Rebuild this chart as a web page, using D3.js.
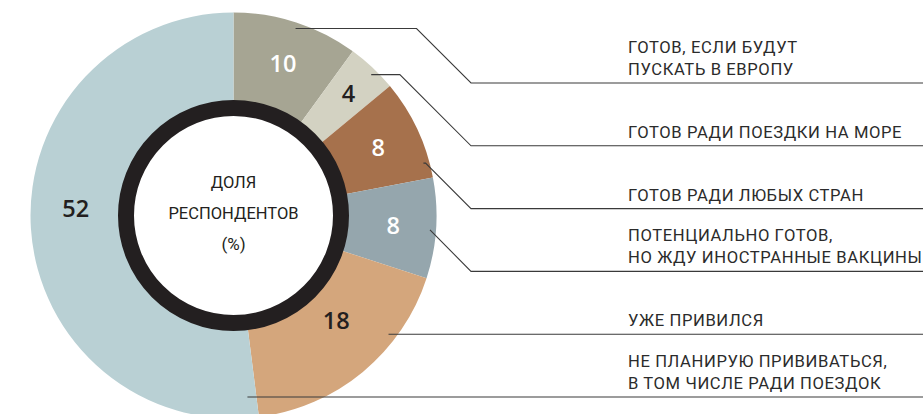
<!DOCTYPE html>
<html>
<head>
<meta charset="utf-8">
<script src="https://cdn.jsdelivr.net/npm/d3@7"></script>
<style>
  html, body { margin: 0; padding: 0; background: #fff; }
  svg { display: block; }
</style>
</head>
<body>
<div id="chart"></div>
<script>
// data
var categories = [
  ['ГОТОВ, ЕСЛИ БУДУТ', 'ПУСКАТЬ В ЕВРОПУ'],
  ['ГОТОВ РАДИ ПОЕЗДКИ НА МОРЕ'],
  ['ГОТОВ РАДИ ЛЮБЫХ СТРАН'],
  ['ПОТЕНЦИАЛЬНО ГОТОВ,', 'НО ЖДУ ИНОСТРАННЫЕ ВАКЦИНЫ'],
  ['УЖЕ ПРИВИЛСЯ'],
  ['НЕ ПЛАНИРУЮ ПРИВИВАТЬСЯ,', 'В ТОМ ЧИСЛЕ РАДИ ПОЕЗДОК']
];
var values = [10, 4, 8, 8, 18, 52];
var centerTitle = ['ДОЛЯ', 'РЕСПОНДЕНТОВ', '(%)'];

// styles
var colors = ['#a6a593', '#d3d2c2', '#a6714c', '#95a6ad', '#d4a67c', '#b9d0d4'];
var valueColors = ['#fff', '#231f20', '#fff', '#fff', '#231f20', '#231f20'];
var ink = '#231f20';

// layout tweaks for the value labels (radius, angle shift in degrees)
var labelRadius = [160, 168, 160, 160, 147, 158];
var labelShift = [0, 0, 0, 0, -4.7, 6];
// where inside each slice the leader line starts (fraction of the slice angle)
var leaderAt = [0.51, 0.58, 0.84, 0.52, 0.30, 0.015];

var width = 923, height = 414;
var cx = 233.5, cy = 215.5, R = 203;
var elbowX = 471, textX = 628;

var svg = d3.select('#chart').append('svg')
    .attr('width', width)
    .attr('height', height);

var pie = d3.pie().sort(null).value(function (d) { return d; });
var arcs = pie(values);

var arc = d3.arc().innerRadius(100).outerRadius(R);

var g = svg.append('g')
    .attr('transform', 'translate(' + cx + ',' + cy + ')');

g.selectAll('path.slice')
    .data(arcs)
  .enter().append('path')
    .attr('class', 'slice')
    .attr('d', arc)
    .attr('fill', function (d, i) { return colors[i]; });

// black ring with white hole
g.append('circle')
    .attr('r', 107.5)
    .attr('fill', '#fff')
    .attr('stroke', ink)
    .attr('stroke-width', 16);

// center title
g.selectAll('text.title')
    .data(centerTitle)
  .enter().append('text')
    .attr('class', 'title')
    .attr('x', 0)
    .attr('y', function (d, i) { return [-27.5, 3.5, 34.5][i]; })
    .attr('text-anchor', 'middle')
    .attr('font-family', 'Roboto, sans-serif')
    .attr('font-size', function (d, i) { return i === 2 ? 17 : 16.5; })
    .attr('fill', ink)
    .text(function (d) { return d; });

// value labels
g.selectAll('text.value')
    .data(arcs)
  .enter().append('text')
    .attr('class', 'value')
    .attr('transform', function (d, i) {
      var a = (d.startAngle + d.endAngle) / 2 + labelShift[i] * Math.PI / 180;
      var r = labelRadius[i];
      return 'translate(' + (r * Math.sin(a)) + ',' + (-r * Math.cos(a)) + ')';
    })
    .attr('dy', '0.36em')
    .attr('text-anchor', 'middle')
    .attr('font-family', '"Open Sans", sans-serif')
    .attr('font-weight', 600)
    .attr('font-size', 23.5)
    .attr('fill', function (d, i) { return valueColors[i]; })
    .text(function (d) { return d.data; });

// rows on the right
var rowY = d3.scalePoint()
    .domain(d3.range(categories.length))
    .range([83, 397]);

var leaders = arcs.map(function (d, i) {
  var a = d.startAngle + (d.endAngle - d.startAngle) * leaderAt[i];
  var ly = rowY(i);
  var ax = cx + 197 * Math.sin(a), ay = cy - 197 * Math.cos(a);
  if (ay >= ly) {
    // slide the start along the ray until it sits on the row line
    var r = (ly - cy) / -Math.cos(a);
    ax = cx + r * Math.sin(a);
    ay = ly;
    return 'M' + ax + ',' + ay + 'H' + width;
  }
  var cornerX = Math.max(ax, elbowX - (ly - ay));
  return 'M' + ax + ',' + ay + 'H' + cornerX + 'L' + elbowX + ',' + ly + 'H' + width;
});

svg.selectAll('path.leader')
    .data(leaders)
  .enter().append('path')
    .attr('class', 'leader')
    .attr('d', function (d) { return d; })
    .attr('fill', 'none')
    .attr('stroke', '#3a3a3a')
    .attr('stroke-width', 1.1);

var rows = svg.selectAll('g.row')
    .data(categories)
  .enter().append('g')
    .attr('class', 'row')
    .attr('transform', function (d, i) { return 'translate(' + textX + ',' + (rowY(i) - 8) + ')'; });

rows.selectAll('text')
    .data(function (d) { return d; })
  .enter().append('text')
    .attr('x', 0)
    .attr('y', function (d, i, nodes) { return (i - (nodes.length - 1)) * 22.5; })
    .attr('font-family', 'Roboto, sans-serif')
    .attr('font-size', 16.6)
    .attr('letter-spacing', 0.6)
    .attr('fill', '#2b2b2b')
    .text(function (d) { return d; });
</script>
</body>
</html>
